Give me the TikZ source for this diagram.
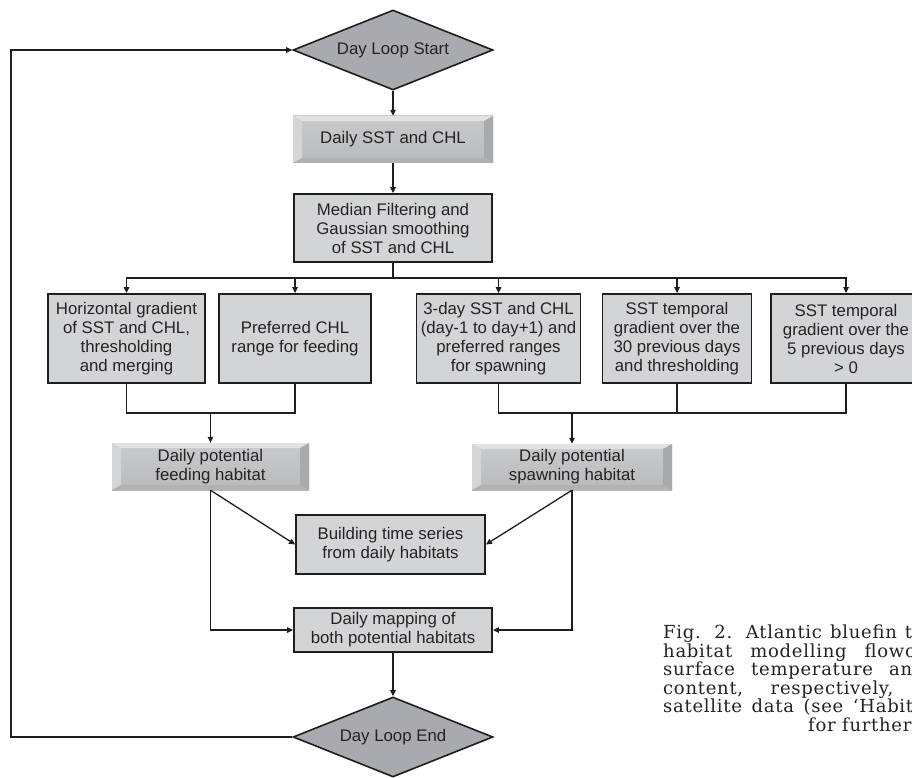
\documentclass[tikz,border=0pt]{standalone}
\usepackage{fontspec}
\setmainfont{Liberation Sans}
\newfontfamily\capfont[LetterSpace=4]{DejaVu Serif}
\usetikzlibrary{shapes.geometric,arrows.meta,calc}

\definecolor{boxgray}{HTML}{D3D4D6}
\definecolor{diagray}{HTML}{A9AAAD}
\definecolor{linecol}{HTML}{1E1E1E}
\definecolor{txtcol}{HTML}{262223}
\definecolor{bevA}{HTML}{C9CACC}
\definecolor{bevB}{HTML}{B9BABC}
\definecolor{bevT}{HTML}{E2E2E3}
\definecolor{bevL}{HTML}{D4D5D7}
\definecolor{bevR}{HTML}{A9AAAC}
\definecolor{bevD}{HTML}{B1B2B4}

\begin{document}
\begin{tikzpicture}[x=1pt,y=-1pt,
  font=\fontsize{16.8}{19}\selectfont,
  txt/.style={align=center,text=txtcol,inner sep=0pt},
  plainbox/.style={txt,rectangle,draw=linecol,line width=1.8pt,fill=boxgray},
  bevelbox/.style={txt,rectangle,top color=bevA,bottom color=bevB,
    path picture={
      \fill[bevT] (path picture bounding box.north west) -- (path picture bounding box.north east)
        -- ([shift={(-9pt,-5pt)}]path picture bounding box.north east)
        -- ([shift={(9pt,-5pt)}]path picture bounding box.north west) -- cycle;
      \fill[bevL] (path picture bounding box.north west) -- ([shift={(9pt,-5pt)}]path picture bounding box.north west)
        -- ([shift={(9pt,5pt)}]path picture bounding box.south west) -- (path picture bounding box.south west) -- cycle;
      \fill[bevR] (path picture bounding box.north east) -- ([shift={(-9pt,-5pt)}]path picture bounding box.north east)
        -- ([shift={(-9pt,5pt)}]path picture bounding box.south east) -- (path picture bounding box.south east) -- cycle;
      \fill[bevD] (path picture bounding box.south west) -- ([shift={(9pt,5pt)}]path picture bounding box.south west)
        -- ([shift={(-9pt,5pt)}]path picture bounding box.south east) -- (path picture bounding box.south east) -- cycle;
    }},
  loopdia/.style={txt,diamond,aspect=2.5,draw=linecol,line width=1.6pt,fill=diagray,
    minimum width=200pt,minimum height=80pt},
  conn/.style={draw=linecol,line width=1.3pt},
  arr/.style={conn,-{Triangle[length=6pt,width=5.5pt]}},
  captxt/.style={anchor=base west,inner sep=0pt,text=txtcol,font=\capfont\fontsize{18}{18.6}\selectfont}
]
\path[use as bounding box] (0,0) rectangle (912,778);
\clip (0,0) rectangle (912,778);
\fill[white] (0,0) rectangle (912,778);

% nodes
\node[loopdia] (dstart) at (393,50) {Day Loop Start};
\node[bevelbox,minimum width=200pt,minimum height=47pt] (sst) at (393,139.5) {Daily SST and CHL};
\node[plainbox,minimum width=198pt,minimum height=68pt] (median) at (393,228) {Median Filtering and\\Gaussian smoothing\\of SST and CHL};

\node[plainbox,minimum width=157pt,minimum height=89pt] (b1) at (126.5,338.5) {Horizontal gradient\\of SST and CHL,\\thresholding\\and merging};
\node[plainbox,minimum width=152pt,minimum height=89pt] (b2) at (295,338.5) {Preferred CHL\\range for feeding};
\node[plainbox,minimum width=164pt,minimum height=89pt] (b3) at (498.5,338.5) {3-day SST and CHL\\(day-1 to day+1) and\\preferred ranges\\for spawning};
\node[plainbox,minimum width=149pt,minimum height=89pt] (b4) at (677,338.5) {SST temporal\\gradient over the\\30 previous days\\and thresholding};
\node[plainbox,minimum width=150pt,minimum height=89pt] (b5) at (846,338.5) {SST temporal\\gradient over the\\5 previous days\\> 0};

\node[bevelbox,minimum width=197pt,minimum height=47pt] (feed) at (210.5,466.5) {Daily potential\\feeding habitat};
\node[bevelbox,minimum width=200pt,minimum height=46pt] (spawn) at (572,467) {Daily potential\\spawning habitat};

\node[plainbox,minimum width=189pt,minimum height=59pt] (build) at (390.5,544.5) {Building time series\\from daily habitats};
\node[plainbox,minimum width=198pt,minimum height=44pt] (map) at (393,630) {Daily mapping of\\both potential habitats};
\node[loopdia] (dend) at (393,737) {Day Loop End};

% junction coordinates
\coordinate (br) at (393,278);
\coordinate (mf) at (210.5,413);
\coordinate (ms) at (572,413);
\coordinate (lb) at (11,737);
\coordinate (lt) at (11,50);

% connectors
\draw[arr] (dstart.south) -- (sst.north);
\draw[arr] (sst.south) -- (median.north);
\draw[conn,line width=2pt] (median.south) -- (br);
\draw[arr] (br) -| (b1.north);
\draw[arr] (br) -| (b2.north);
\draw[arr] (br) -| (b3.north);
\draw[arr] (br) -| (b4.north);
\draw[arr] (br) -| (b5.north);

\draw[conn] (b1.south) |- (mf);
\draw[conn] (b2.south) |- (mf);
\draw[arr] (mf) -- (feed.north);
\draw[conn] (b3.south) |- (ms);
\draw[conn] (b4.south) |- (ms);
\draw[conn] (b5.south) |- (ms);
\draw[arr] (ms) -- (spawn.north);

\draw[arr] (feed.south) -- (build.west);
\draw[arr] (feed.south) |- (map.west);
\draw[arr] (spawn.south) -- (build.east);
\draw[arr] (spawn.south) |- (map.east);
\draw[arr] (map.south) -- (dend.north);

\draw[arr,line width=1.8pt] (dend.west) -- (lb) -- (lt) -- (dstart.west);

% caption
\node[captxt] (c1) at (663,638.5) {\makebox[249pt][s]{Fig. 2. Atlantic bluefin t}};
\node[captxt] (c2) at (663,657) {\makebox[252pt][s]{habitat modelling flowc}};
\node[captxt] (c3) at (663,675.5) {\makebox[249pt][s]{surface temperature an}};
\node[captxt] (c4) at (663,694) {\makebox[230pt][s]{content, respectively,}};
\node[captxt] (c5) at (663,712.5) {\makebox[250pt][s]{satellite data (see ‘Habit}};
\node[captxt] (c6) at (808,731) {for further};
\end{tikzpicture}
\end{document}
